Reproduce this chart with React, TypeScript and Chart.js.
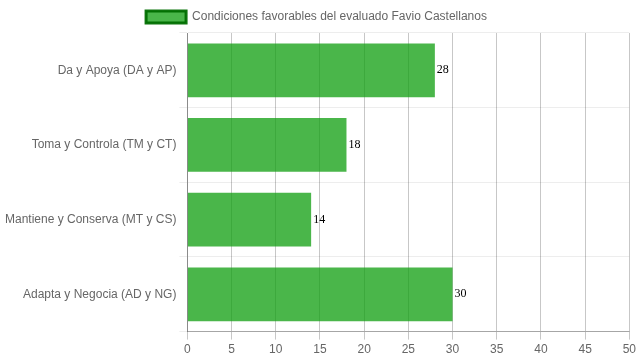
import React, { useEffect, useRef } from "react";
import { Chart, registerables } from "chart.js";

Chart.register(...registerables);

const categories = [
  "Da y Apoya (DA y AP)",
  "Toma y Controla (TM y CT)",
  "Mantiene y Conserva (MT y CS)",
  "Adapta y Negocia (AD y NG)",
];
const values = [28, 18, 14, 30];
const seriesLabel = "Condiciones favorables del evaluado Favio Castellanos";

const valueLabels = {
  id: "valueLabels",
  afterDatasetsDraw(chart: any) {
    const ctx = chart.ctx;
    const meta = chart.getDatasetMeta(0);
    ctx.save();
    ctx.font = "12px 'Liberation Serif', 'Times New Roman', serif";
    ctx.fillStyle = "#000";
    ctx.textAlign = "left";
    ctx.textBaseline = "middle";
    meta.data.forEach((el: any, i: number) => {
      ctx.fillText(String(chart.data.datasets[0].data[i]), el.x + 2, el.y);
    });
    ctx.restore();
  },
};

export default function App() {
  const ref = useRef<HTMLCanvasElement>(null);
  useEffect(() => {
    document.body.style.margin = "0";
    const chart = new Chart(ref.current!, {
      type: "bar",
      data: {
        labels: categories,
        datasets: [
          {
            label: seriesLabel,
            data: values,
            backgroundColor: "rgba(20,160,20,0.77)",
            borderColor: "rgba(0,110,0,0.9)",
            borderWidth: 0,
          },
        ],
      },
      options: {
        indexAxis: "y",
        animation: false,
        responsive: false,
        maintainAspectRatio: false,
        layout: { padding: { left: 2, right: 8, top: 1 } },
        plugins: {
          tooltip: { enabled: false },
          legend: {
            labels: {
              color: "#666",
              font: { family: "'Liberation Sans', Arial, sans-serif", size: 12 },
              generateLabels: (chart: any) => [
                {
                  text: seriesLabel,
                  fillStyle: "rgba(20,160,20,0.77)",
                  strokeStyle: "rgba(0,110,0,0.95)",
                  lineWidth: 3,
                  datasetIndex: 0,
                  hidden: false,
                  fontColor: "#666",
                },
              ],
            },
          },
        },
        scales: {
          x: {
            min: 0,
            max: 50,
            ticks: {
              stepSize: 5,
              color: "#666",
              font: { family: "'Liberation Sans', Arial, sans-serif", size: 12 },
            },
            grid: { color: "rgba(0,0,0,0.22)" },
            border: { color: "rgba(0,0,0,0.3)" },
          },
          y: {
            ticks: {
              color: "#666",
              font: { family: "'Liberation Sans', Arial, sans-serif", size: 12 },
            },
            grid: { color: "rgba(0,0,0,0.07)" },
            border: { color: "rgba(0,0,0,0.3)" },
          },
        },
      },
      plugins: [valueLabels],
    } as any);
    return () => chart.destroy();
  }, []);
  return (
    <div style={{ width: 639, height: 360 }}>
      <canvas ref={ref} width={639} height={360} style={{ width: 639, height: 360 }} />
    </div>
  );
}
